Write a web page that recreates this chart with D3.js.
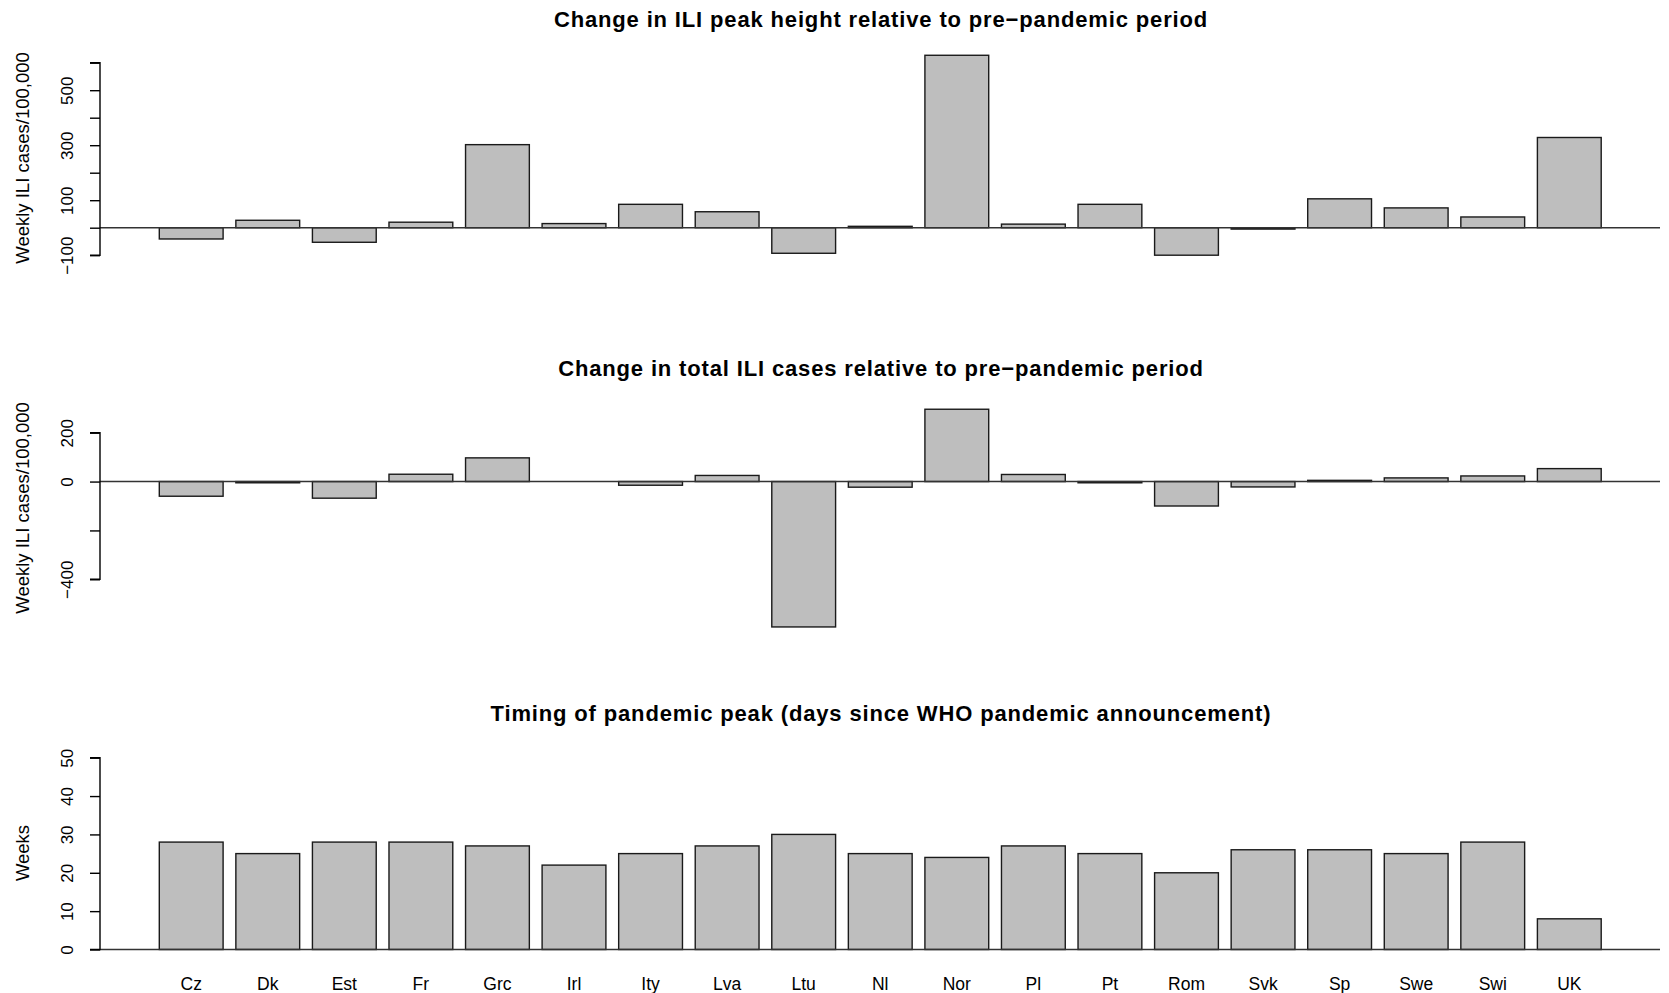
<!DOCTYPE html>
<html>
<head>
<meta charset="utf-8">
<script src="https://cdn.jsdelivr.net/npm/d3@7"></script>
<style>
    body { margin: 0; background: #fff; }
    text { font-family: "Liberation Sans", Arial, Helvetica, sans-serif; fill: #000; }
</style>
</head>
<body>
<svg></svg>
<script>
// countries along the x axis (same order in all three panels)
const countries = ["Cz", "Dk", "Est", "Fr", "Grc", "Irl", "Ity", "Lva", "Ltu", "Nl",
    "Nor", "Pl", "Pt", "Rom", "Svk", "Sp", "Swe", "Swi", "UK"];

// panel 1: change in ILI peak height (weekly cases / 100,000)
const peakChange = [-41, 27, -53, 20, 302, 15, 85, 58, -93, 5,
    627, 13, 85, -100, -5, 105, 72, 39, 328];

// panel 2: change in total ILI cases
const totalChange = [-60, -5, -68, 30, 97, 0, -15, 25, -595, -23,
    296, 29, -5, -100, -22, 5, 15, 23, 53];

// panel 3: timing of pandemic peak (weeks)
const peakWeeks = [28, 25, 28, 28, 27, 22, 25, 27, 30, 25,
    24, 27, 25, 20, 26, 26, 25, 28, 8];

// axis ticks, and which of them get a label
const peakTicks = [-100, 0, 100, 200, 300, 400, 500, 600];
const peakTickLabels = [-100, 100, 300, 500];
const totalTicks = [-400, -200, 0, 200];
const totalTickLabels = [-400, 0, 200];
const weekTicks = [0, 10, 20, 30, 40, 50];
const weekTickLabels = [0, 10, 20, 30, 40, 50];

const width = 1669
const height = 993

const svg = d3.select("svg").attr("width", width).attr("height", height)

const axisX = 100
const plotRight = 1660

const x = d3.scaleBand()
    .domain(countries)
    .range([159.3, 1601.2])
    .paddingInner(1 / 6)
    .paddingOuter(0)

const panels = [
    {
        title: "Change in ILI peak height relative to pre\u2212pandemic period",
        titleY: 27,
        ylab: "Weekly ILI cases/100,000",
        labY: 158,
        values: peakChange,
        ticks: peakTicks,
        labels: peakTickLabels,
        y: d3.scaleLinear().domain([-100, 600]).range([255.2, 62.7])
    },
    {
        title: "Change in total ILI cases relative to pre\u2212pandemic period",
        titleY: 376,
        ylab: "Weekly ILI cases/100,000",
        labY: 508,
        values: totalChange,
        ticks: totalTicks,
        labels: totalTickLabels,
        y: d3.scaleLinear().domain([-400, 200]).range([579.3, 432.7])
    },
    {
        title: "Timing of pandemic peak (days since WHO pandemic announcement)",
        titleY: 721,
        ylab: "Weeks",
        labY: 853,
        values: peakWeeks,
        ticks: weekTicks,
        labels: weekTickLabels,
        y: d3.scaleLinear().domain([0, 50]).range([949.5, 757.7])
    }
]

panels.forEach(p => {
    const g = svg.append("g")
    const y = p.y

    // bars
    g.selectAll("rect")
        .data(p.values)
        .join("rect")
            .attr("x", (d, i) => x(countries[i]))
            .attr("width", x.bandwidth())
            .attr("y", d => y(Math.max(0, d)))
            .attr("height", d => Math.abs(y(d) - y(0)))
            .attr("fill", "#bebebe")
            .attr("stroke", "#1a1a1a")
            .attr("stroke-width", 1.4)

    // zero line
    g.append("line")
        .attr("x1", axisX).attr("x2", plotRight)
        .attr("y1", y(0)).attr("y2", y(0))
        .attr("stroke", "#333")
        .attr("stroke-width", 1.4)

    // y axis, R style with rotated labels
    const yAxis = d3.axisLeft(y)
        .tickValues(p.ticks)
        .tickSize(10)
        .tickFormat(d => p.labels.includes(d) ? (d < 0 ? "\u2212" + Math.abs(d) : d) : "")

    const ax = g.append("g")
        .attr("transform", `translate(${axisX},0)`)
        .call(yAxis)

    ax.select(".domain")
        .attr("d", `M-10,${y(p.ticks[0])}H0V${y(p.ticks[p.ticks.length - 1])}H-10`)
        .attr("stroke", "#000").attr("stroke-width", 1.4)
    ax.selectAll(".tick line").attr("stroke", "#000").attr("stroke-width", 1.4)
    ax.selectAll(".tick text")
        .attr("x", null).attr("dy", null)
        .attr("transform", "translate(-27,0) rotate(-90)")
        .attr("text-anchor", "middle")
        .style("font-size", "17px")
        .style("font-family", "'Liberation Sans', Arial, sans-serif")

    // title
    g.append("text")
        .attr("x", 881)
        .attr("y", p.titleY)
        .attr("text-anchor", "middle")
        .style("font-size", "22px")
        .style("letter-spacing", "0.85px")
        .style("font-weight", "bold")
        .text(p.title)

    // y label
    g.append("text")
        .attr("transform", `translate(29,${p.labY}) rotate(-90)`)
        .attr("text-anchor", "middle")
        .style("font-size", "18.5px")
        .text(p.ylab)
})

// country names under the last panel
svg.append("g")
    .selectAll("text")
    .data(countries)
    .join("text")
        .attr("x", d => x(d) + x.bandwidth() / 2)
        .attr("y", 990)
        .attr("text-anchor", "middle")
        .style("font-size", "17.5px")
        .text(d => d)
</script>
</body>
</html>
